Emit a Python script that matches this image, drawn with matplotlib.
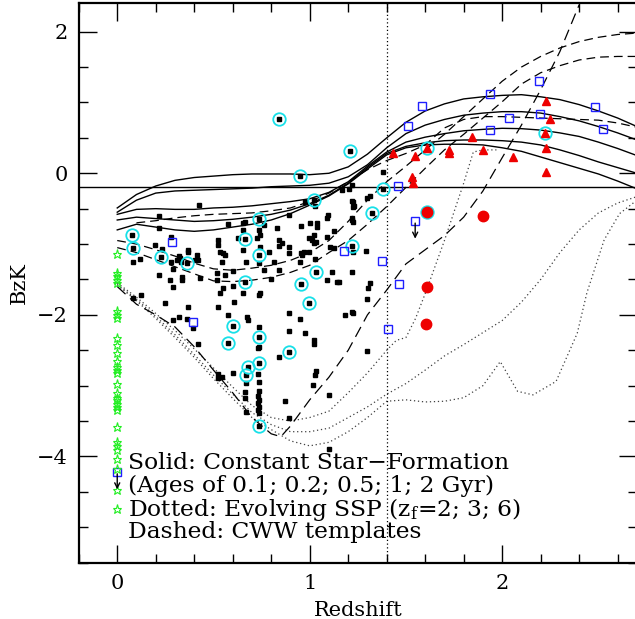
import numpy as np
import matplotlib
matplotlib.use("Agg")
import matplotlib.pyplot as plt

plt.rcParams['font.family'] = ['DejaVu Serif']
plt.rcParams['mathtext.fontset'] = 'dejavuserif'

# ---- model tracks ----
# solid: constant star formation, ages 0.1, 0.2, 0.5, 1, 2 Gyr
csf_z = [0.0, 0.1, 0.2, 0.3, 0.4, 0.5, 0.6, 0.7, 0.8, 0.9, 1.0, 1.1, 1.2, 1.3,
         1.4, 1.5, 1.6, 1.7, 1.8, 1.9, 2.0, 2.1, 2.2, 2.3, 2.4, 2.5, 2.6, 2.7]
csf_01 = [-0.49, -0.30, -0.18, -0.10, -0.06, -0.04, -0.02, -0.01, -0.01, -0.01,
          -0.02, 0.00, 0.09, 0.27, 0.50, 0.72, 0.88, 0.98, 1.05, 1.08, 1.10,
          1.11, 1.08, 1.04, 0.97, 0.88, 0.78, 0.66]
csf_02 = [-0.55, -0.38, -0.28, -0.25, -0.24, -0.23, -0.22, -0.21, -0.19, -0.18,
          -0.17, -0.14, -0.05, 0.12, 0.36, 0.56, 0.68, 0.76, 0.82, 0.85, 0.87,
          0.87, 0.85, 0.80, 0.74, 0.66, 0.57, 0.47]
csf_05 = [-0.58, -0.51, -0.50, -0.51, -0.51, -0.49, -0.48, -0.46, -0.43, -0.40,
          -0.36, -0.27, -0.12, 0.10, 0.30, 0.44, 0.51, 0.56, 0.60, 0.62, 0.635,
          0.63, 0.61, 0.57, 0.52, 0.44, 0.35, 0.25]
csf_1 = [-0.66, -0.62, -0.64, -0.66, -0.68, -0.67, -0.65, -0.62, -0.58, -0.52,
         -0.43, -0.31, -0.14, 0.08, 0.28, 0.38, 0.43, 0.46, 0.47, 0.47, 0.46,
         0.44, 0.40, 0.33, 0.25, 0.16, 0.08, 0.00]
csf_2 = [-0.80, -0.72, -0.76, -0.80, -0.82, -0.80, -0.76, -0.72, -0.66, -0.57,
         -0.45, -0.32, -0.15, 0.06, 0.26, 0.36, 0.40, 0.41, 0.41, 0.40, 0.36,
         0.31, 0.23, 0.15, 0.07, -0.01, -0.11, -0.22]

# dotted: evolving SSP, zf = 2, 3, 6
ssp2_z = [0.0, 0.1, 0.2, 0.3, 0.4, 0.5, 0.6, 0.7, 0.8, 0.9, 1.0, 1.1, 1.2, 1.3,
          1.4, 1.45, 1.5, 1.55, 1.6, 1.7, 1.8, 1.85, 1.9, 1.97]
ssp2_c = [-1.55, -1.75, -1.98, -2.22, -2.48, -2.75, -3.02, -3.28, -3.45, -3.50,
          -3.45, -3.36, -3.10, -2.82, -2.50, -2.36, -2.32, -2.05, -1.70, -0.95,
          -0.14, 0.30, 0.33, 0.33]
ssp3_z = [0.0, 0.1, 0.2, 0.3, 0.4, 0.5, 0.6, 0.7, 0.8, 0.9, 1.0, 1.1, 1.2, 1.3,
          1.4, 1.5, 1.6, 1.7, 1.8, 1.9, 2.0, 2.1, 2.2, 2.3, 2.4, 2.5, 2.6, 2.7]
ssp3_c = [-1.57, -1.78, -2.02, -2.28, -2.56, -2.85, -3.12, -3.38, -3.55, -3.65,
          -3.65, -3.60, -3.45, -3.30, -3.12, -2.97, -2.78, -2.58, -2.42, -2.25,
          -2.08, -1.82, -1.50, -1.12, -0.80, -0.56, -0.42, -0.33]
ssp6_z = [0.0, 0.1, 0.2, 0.3, 0.4, 0.5, 0.6, 0.7, 0.8, 0.9, 1.0, 1.1, 1.2, 1.3,
          1.4, 1.5, 1.6, 1.7, 1.8, 1.9, 1.99, 2.08, 2.16, 2.28, 2.39, 2.44,
          2.53, 2.61, 2.7]
ssp6_c = [-1.58, -1.80, -2.05, -2.32, -2.60, -2.90, -3.18, -3.45, -3.62, -3.78,
          -3.85, -3.80, -3.65, -3.45, -3.22, -3.20, -3.23, -3.22, -3.17, -3.00,
          -2.66, -3.08, -3.13, -2.94, -2.26, -1.69, -0.94, -0.57, -0.38]

# dashed: CWW templates
cwwE_z = [0.0, 0.1, 0.2, 0.3, 0.4, 0.5, 0.6, 0.7, 0.8, 0.85, 0.9, 1.0, 1.1,
          1.2, 1.3, 1.4, 1.5, 1.6, 1.7, 1.8, 1.9, 2.0, 2.1, 2.2, 2.3, 2.4]
cwwE_c = [-1.60, -1.85, -2.00, -2.17, -2.45, -2.78, -3.10, -3.45, -3.68, -3.72,
          -3.57, -3.20, -2.88, -2.50, -2.00, -1.65, -1.28, -1.08, -0.88, -0.62,
          -0.25, 0.22, 0.68, 1.18, 1.72, 2.38]
cww_z = [0.0, 0.1, 0.2, 0.3, 0.4, 0.5, 0.6, 0.7, 0.8, 0.9, 1.0, 1.1, 1.2, 1.3,
         1.4, 1.5, 1.6, 1.7, 1.8, 1.9, 2.0, 2.1, 2.2, 2.3, 2.4, 2.5, 2.6, 2.7]
cwwSbc_c = [-0.95, -1.00, -1.08, -1.17, -1.27, -1.35, -1.37, -1.34, -1.30, -1.23,
            -1.12, -0.95, -0.68, -0.38, -0.12, 0.10, 0.33, 0.55, 0.80, 1.05,
            1.30, 1.50, 1.65, 1.77, 1.86, 1.92, 1.96, 1.98]
cwwScd_c = [-1.05, -1.12, -1.22, -1.32, -1.42, -1.52, -1.53, -1.51, -1.47, -1.40,
            -1.30, -1.12, -0.95, -0.72, -0.47, -0.20, 0.07, 0.33, 0.55, 0.78,
            1.01, 1.26, 1.42, 1.52, 1.60, 1.64, 1.65, 1.65]
cwwIm_z = [0.1, 0.2, 0.3, 0.4, 0.5, 0.6, 0.7, 0.8, 0.9, 1.0, 1.1, 1.2, 1.3, 1.4,
           1.5, 1.6, 1.7, 1.8, 1.9, 2.0, 2.1, 2.2, 2.3, 2.4, 2.5, 2.6, 2.7]
cwwIm_c = [-0.70, -0.67, -0.63, -0.60, -0.58, -0.57, -0.56, -0.53, -0.49, -0.40,
           -0.28, -0.12, 0.05, 0.18, 0.28, 0.40, 0.64, 0.76, 0.80, 0.80, 0.79,
           0.78, 0.77, 0.76, 0.75, 0.71, 0.65]

# ---- observed galaxies ----
gal_z = [0.076, 0.08, 0.229, 0.362, 0.426, 0.216, 0.216, 0.277, 0.196, 0.23,
         0.366, 0.366, 0.321, 0.327, 0.31, 0.331, 0.417, 0.405, 0.422, 0.08,
         0.116, 0.28, 0.216, 0.292, 0.336, 0.336, 0.431, 0.275, 0.289, 0.08,
         0.125, 0.249, 0.366, 0.321, 0.362, 0.292, 0.396, 0.422,
         0.526, 0.526, 0.535, 0.544, 0.549, 0.561, 0.518, 0.518, 0.561, 0.552,
         0.535, 0.604, 0.604, 0.656, 0.606, 0.522, 0.574, 0.674, 0.678, 0.739,
         0.522, 0.544, 0.522, 0.604, 0.656, 0.656, 0.577, 0.629, 0.734, 0.743,
         0.726, 0.743, 0.76, 0.83, 0.656, 0.786, 0.839, 0.856, 0.839, 0.89,
         0.895, 0.734, 0.816, 0.669, 0.76, 0.842, 0.743, 0.734, 0.80, 0.842,
         0.73, 0.739, 0.73, 0.739, 0.669, 0.734, 0.665, 0.665, 0.73, 0.739,
         0.73, 0.739, 0.73, 0.739, 0.669, 0.873, 0.89, 0.665,
         0.838, 0.949, 1.02, 1.21, 1.38, 1.323, 1.219, 0.734, 0.665, 0.736,
         0.665, 1.032, 0.956, 0.997, 0.604, 0.738, 0.575, 0.894, 0.734, 0.677,
         0.67, 0.734,
         0.978, 1.029, 0.89, 1.094, 1.089, 1.219, 1.228, 1.167, 1.202, 0.953,
         1.0, 1.039, 1.039, 1.219, 1.124, 0.994, 1.02, 1.034, 1.02, 1.011,
         1.089, 0.953, 0.958, 0.997, 0.968, 1.106, 1.029, 0.948, 0.951, 0.89,
         1.115, 1.092, 1.144, 1.219, 1.292, 1.184, 1.219, 1.223, 1.297, 1.305,
         1.314, 0.973, 0.895, 1.02, 1.02, 1.034, 1.029, 1.015, 1.098, 1.098,
         1.297, 1.38, 1.219, 1.311, 1.297, 1.223, 1.223, 1.219, 1.223, 1.124,
         1.223, 1.15]
gal_c = [-0.871, -1.051, -1.178, -1.263, -0.455, -0.61, -0.777, -0.895, -1.013,
         -1.073, -1.083, -1.119, -1.168, -1.20, -1.225, -1.249, -1.158, -1.225,
         -1.225, -1.249, -1.215, -1.249, -1.436, -1.356, -1.46, -1.507, -1.483,
         -1.507, -1.602, -1.766, -1.719, -1.836, -1.895, -2.037, -2.054, -2.072,
         -2.189, -2.415,
         -0.942, -1.013, -1.107, -1.249, -1.13, -1.154, -1.412, -1.507, -1.436,
         -1.624, -1.695, -1.376, -1.592, -1.686, -1.814, -1.895, -2.001, -2.037,
         -2.072, -2.167, -2.835, -2.877, -2.895, -2.816, -0.706, -0.80, -0.72,
         -0.918, -0.80, -0.871, -0.918, -1.037, -0.73, -0.777, -1.083, -1.107,
         -0.942, -0.98, -1.028, -1.037, -1.13, -1.263, -1.249, -1.249, -1.366,
         -1.366, -1.686, -1.719, -1.49, -2.59, -2.472, -2.449, -2.835, -2.943,
         -2.966, -3.071, -3.085, -3.178, -3.145, -3.202, -3.249, -3.297, -3.343,
         -3.39, -3.376, -3.212, -3.452, -0.684,
         0.767, -0.034, -0.377, 0.319, -0.226, -0.565, -1.023, -0.65, -0.935,
         -1.158, -1.535, -1.398, -1.564, -1.832, -2.157, -2.316, -2.401, -2.52,
         -2.675, -2.73, -2.853, -3.569,
         -0.40, -0.462, -0.589, -0.589, -0.627, -0.389, -0.462, -0.236, -0.226,
         -0.74, -0.698, -0.698, -0.754, -0.66, -0.81, -0.918, -0.871, -0.966,
         -0.98, -0.942, -0.904, -1.13, -1.154, -1.107, -1.119, -1.037, -1.215,
         -1.249, -2.062, -1.977, -1.39, -1.507, -1.531, -1.39, -1.099, -2.001,
         -1.955, -1.977, -1.775, -1.624, -1.554, -2.263, -2.227, -2.354, -2.415,
         -2.788, -2.849, -2.99, -3.131, -3.894, -2.506, 0.014, -0.165, -0.32,
         -0.353, -0.40, -0.47, -0.636, -0.684, -1.061, -1.119, -1.531]

# circled objects
circ_z = [0.838, 0.949, 1.21, 1.02, 1.38, 1.323, 1.219, 0.076, 0.08, 0.229,
          0.362, 0.734, 0.665, 0.736, 0.665, 1.032, 0.956, 0.997, 0.604, 0.738,
          0.575, 0.894, 0.734, 0.677, 0.67, 0.734, 1.609, 2.22, 1.609]
circ_c = [0.767, -0.034, 0.319, -0.377, -0.226, -0.565, -1.023, -0.871, -1.051,
          -1.178, -1.263, -0.65, -0.935, -1.158, -1.535, -1.398, -1.564, -1.832,
          -2.157, -2.316, -2.401, -2.52, -2.675, -2.73, -2.853, -3.569, 0.362,
          0.565, -0.542]

# red triangles and red circles
tri_z = [1.435, 1.548, 1.534, 1.536, 1.609, 1.726, 1.726, 1.843, 1.90, 2.056,
         2.227, 2.249, 2.22, 2.227, 2.227]
tri_c = [0.291, 0.244, -0.048, -0.141, 0.362, 0.329, 0.282, 0.508, 0.329, 0.226,
         1.021, 0.767, 0.565, 0.353, 0.023]
rc_z = [1.609, 1.90, 1.612, 1.604]
rc_c = [-0.542, -0.603, -1.61, -2.133]

# blue open squares
sq_z = [0.284, 0.396, 1.176, 1.375, 1.406, 1.465, 1.461, 1.513, 1.586, 1.548,
        1.938, 1.938, 2.033, 2.192, 2.197, 2.483, 2.526, 0.0]
sq_c = [-0.966, -2.105, -1.097, -1.243, -2.2, -1.568, -0.175, 0.668, 0.955,
        -0.674, 1.116, 0.612, 0.785, 1.308, 0.838, 0.932, 0.626, -4.215]
lim_z = [1.548, 0.0]
lim_c = [-0.674, -4.215]

# stars at z = 0
star_c = [-1.14, -1.41, -1.45, -1.51, -1.55, -1.95, -2.0, -2.04, -2.32, -2.42,
          -2.54, -2.65, -2.73, -2.78, -2.82, -2.97, -3.11, -3.18, -3.20, -3.26,
          -3.30, -3.34, -3.59, -3.80, -3.85, -3.91, -4.04, -4.18, -4.48, -4.74]
star_z = [0.0] * len(star_c)

fig = plt.figure(figsize=(6.35, 6.19), dpi=100)
ax = fig.add_axes([0.124, 0.091, 0.879, 0.9036])

dash = (0, (7, 4))
dot = (0, (1, 2.2))

for yy in [csf_01, csf_02, csf_05, csf_1, csf_2]:
    ax.plot(csf_z, yy, color='k', lw=1.0)
for zz, yy in [(ssp2_z, ssp2_c), (ssp3_z, ssp3_c), (ssp6_z, ssp6_c)]:
    ax.plot(zz, yy, color='0.25', lw=0.9, linestyle=dot)
ax.plot(cwwE_z, cwwE_c, color='k', lw=0.9, linestyle=(0, (9, 5)))
ax.plot(cww_z, cwwSbc_c, color='k', lw=0.9, linestyle=dash)
ax.plot(cww_z, cwwScd_c, color='k', lw=0.9, linestyle=dash)
ax.plot(cwwIm_z, cwwIm_c, color='k', lw=0.9, linestyle=dash)

ax.axhline(-0.2, color='k', lw=1.0)
ax.axvline(1.4, color='k', lw=0.9, linestyle=(0, (1, 2)))

ax.plot(gal_z, gal_c, 's', color='k', ms=3, ls='none')
ax.plot(circ_z, circ_c, 'o', mfc='none', mec='#18e0e8', mew=1.3, ms=9, ls='none')
ax.plot(tri_z, tri_c, '^', color='#ee0000', ms=6, ls='none')
ax.plot(rc_z, rc_c, 'o', color='#ee0000', ms=7.5, ls='none')
ax.plot(sq_z, sq_c, 's', mfc='none', mec='#1f1fff', mew=1.0, ms=5.5, ls='none')
ax.plot(star_z, star_c, '*', mfc='none', mec='#22ee22', mew=0.8, ms=6.5, ls='none')
for zz, yy in zip(lim_z, lim_c):
    ax.annotate('', xy=(zz, yy - 0.25), xytext=(zz, yy - 0.03),
                arrowprops=dict(arrowstyle='->', color='k', lw=1.0,
                                shrinkA=0, shrinkB=0, mutation_scale=9))

labels = ['Solid: Constant Star\u2212Formation',
          '(Ages of 0.1; 0.2; 0.5; 1; 2 Gyr)',
          r'Dotted: Evolving SSP (z$_{\rm f}$=2; 3; 6)',
          'Dashed: CWW templates']
label_y = [-4.09, -4.42, -4.75, -5.07]
for txt, yy in zip(labels, label_y):
    ax.text(0.055, yy, txt, fontsize=16.8, va='center', ha='left')

ax.set_xlim(-0.2, 2.7)
ax.set_ylim(-5.5, 2.4)
ax.set_xticks([0, 1, 2])
ax.set_yticks([-4, -2, 0, 2])
ax.set_xticks(np.arange(-0.2, 2.71, 0.2), minor=True)
ax.set_yticks(np.arange(-5.5, 2.41, 0.5), minor=True)
ax.tick_params(which='both', direction='in', top=True, right=True,
               labelsize=15, width=1.0)
ax.tick_params(which='major', length=13, pad=8)
ax.tick_params(which='minor', length=6.5)
for sp in ax.spines.values():
    sp.set_linewidth(1.6)

ax.set_xlabel('Redshift', fontsize=15, labelpad=6)
ax.set_ylabel('BzK', fontsize=15, labelpad=6)

fig.savefig('out.png', dpi=100)
